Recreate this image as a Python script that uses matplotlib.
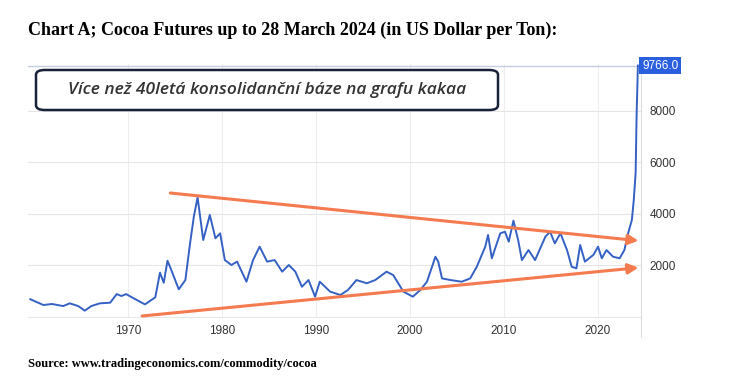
import matplotlib.pyplot as plt
from matplotlib.patches import FancyBboxPatch
from matplotlib.lines import Line2D

# cocoa futures, values (USD per ton)
years = [1959.6, 1961.0, 1961.9, 1963.1, 1963.8, 1964.7, 1965.4, 1966.1, 1967.0, 1968.1,
         1968.8, 1969.3, 1969.8, 1970.6, 1971.8, 1972.9, 1973.4, 1973.8, 1974.2, 1974.6,
         1975.4, 1976.1, 1976.6, 1977.0, 1977.4, 1978.0, 1978.7, 1979.3, 1979.8, 1980.3,
         1981.0, 1981.6, 1982.6, 1983.3, 1984.0, 1984.8, 1985.6, 1986.4, 1987.1, 1987.8,
         1988.5, 1989.2, 1989.9, 1990.4, 1991.5, 1992.6, 1993.4, 1994.3, 1995.4, 1996.3,
         1997.5, 1998.2, 1999.3, 2000.3, 2001.1, 2001.8, 2002.7, 2003.0, 2003.4, 2004.3,
         2005.5, 2006.4, 2007.1, 2008.0, 2008.3, 2008.7, 2009.6, 2010.1, 2010.5, 2011.0,
         2011.5, 2011.9, 2012.6, 2013.3, 2014.4, 2014.9, 2015.4, 2016.0, 2016.7, 2017.2,
         2017.7, 2018.1, 2018.6, 2019.5, 2020.0, 2020.4, 2020.9, 2021.6, 2022.3, 2022.8,
         2023.2, 2023.6, 2023.8, 2024.0, 2024.1, 2024.24]
prices = [690, 465, 505, 425, 530, 425, 245, 425, 530, 555,
          890, 815, 890, 725, 490, 765, 1720, 1330, 2185, 1825,
          1075, 1435, 2860, 3895, 4645, 2990, 3960, 3055, 3250, 2210,
          2020, 2150, 1370, 2210, 2730, 2150, 2210, 1760, 2020, 1760,
          1175, 1435, 790, 1370, 985, 855, 1050, 1435, 1310, 1435,
          1760, 1630, 985, 790, 1050, 1370, 2340, 2150, 1500, 1435,
          1370, 1500, 1950, 2730, 3185, 2280, 3250, 3310, 2925, 3740,
          2990, 2210, 2600, 2210, 3120, 3310, 2860, 3250, 2600, 1950,
          1890, 2795, 2150, 2410, 2730, 2280, 2600, 2340, 2280, 2600,
          3250, 3770, 4540, 5600, 7800, 9766]
last_value = 9766.0

# hand-drawn trend lines (start year, start value, end year, end value)
upper_trend = (1974.5, 4815, 2024.3, 2963)
lower_trend = (1971.5, 40, 2024.3, 1915)

decades = [1970, 1980, 1990, 2000, 2010, 2020]
y_ticks = [2000, 4000, 6000, 8000]

blue = '#3561c4'
orange = '#f47a50'

fig = plt.figure(figsize=(7.48, 3.92), dpi=100)
ax = fig.add_axes([28 / 748, 1 - 318 / 392, 613 / 748, 254 / 392])
ax.set_xlim(1959.36, 2024.57)
ax.set_ylim(-39, 9825)

for d in decades:
    ax.axvline(d, color='#eeeeee', lw=0.8, zorder=0)
for t in [0] + y_ticks:
    ax.axhline(t, color='#e6e6e6', lw=0.8, zorder=0)
ax.axhline(last_value, color='#c5cde0', lw=1.0, zorder=0)

ax.plot(years, prices, color=blue, lw=1.4, zorder=3)

for x0, y0, x1, y1 in [upper_trend, lower_trend]:
    ax.annotate('', xy=(x1, y1), xytext=(x0, y0),
                arrowprops=dict(arrowstyle='-|>,head_length=0.6,head_width=0.3',
                                color=orange, lw=2.2, shrinkA=0, shrinkB=0),
                zorder=4)

for s in ['top', 'left', 'bottom']:
    ax.spines[s].set_visible(False)
ax.spines['right'].set_color('#dddddd')
ax.yaxis.tick_right()
ax.set_yticks(y_ticks)
ax.set_yticklabels([str(t) for t in y_ticks])
ax.set_xticks(decades)
ax.set_xticklabels([str(d) for d in decades])
ax.tick_params(axis='both', length=0, labelsize=8.5, labelcolor='#333333',
               labelfontfamily='Liberation Sans')
ax.tick_params(axis='y', pad=6)
ax.tick_params(axis='x', pad=5)

# last value tag
ax.text(1.002, last_value, f'{last_value:.1f}', transform=ax.get_yaxis_transform(),
        ha='left', va='center', color='white', fontsize=8.5, family='Liberation Sans',
        bbox=dict(boxstyle='square,pad=0.25', fc='#2a5fe0', ec='none'))

fig.add_artist(Line2D([641 / 748, 641 / 748], [1 - 318 / 392, 1 - 337 / 392],
                      color='#dddddd', lw=0.8))

# callout box
box = FancyBboxPatch((36 / 748, 1 - 110 / 392), 462 / 748, 40 / 392,
                     boxstyle='round,pad=0,rounding_size=0.012',
                     transform=fig.transFigure, fc='white', ec='#18223a', lw=1.8, zorder=5)
fig.add_artist(box)
fig.text(267 / 748, 1 - 90 / 392, 'Více než 40letá konsolidanční báze na grafu kakaa',
         ha='center', va='center', fontsize=12.5, style='italic', weight='semibold',
         family='Open Sans', color='#333333', zorder=6)

fig.text(28 / 748, 1 - 30 / 392,
         'Chart A; Cocoa Futures up to 28 March 2024 (in US Dollar per Ton):',
         ha='left', va='center', fontsize=13, weight='bold', family='Liberation Serif')
fig.text(28 / 748, 1 - 364 / 392, 'Source: www.tradingeconomics.com/commodity/cocoa',
         ha='left', va='center', fontsize=9, weight='bold', family='Liberation Serif')

fig.savefig('out.png', dpi=100)
